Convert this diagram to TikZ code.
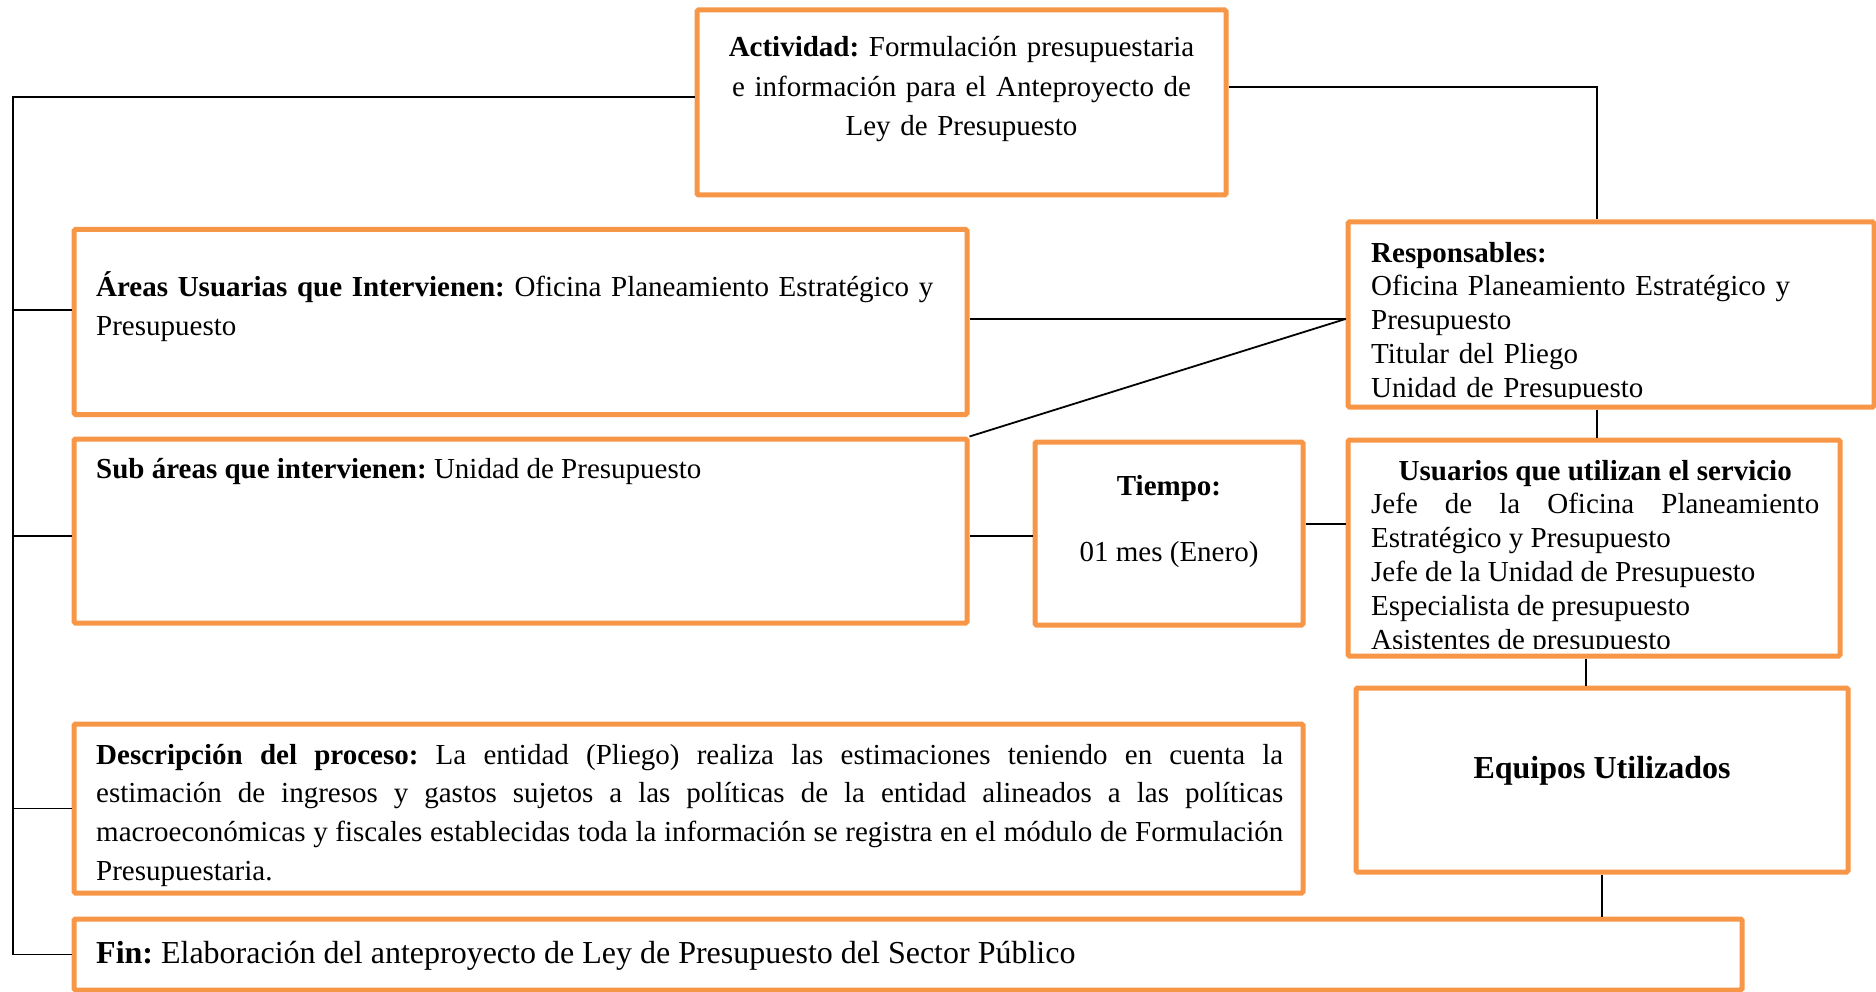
\documentclass[tikz,border=0pt]{standalone}
\usepackage{fontspec}
\setmainfont{Liberation Serif}
\definecolor{boxorange}{HTML}{F79646}
\hbadness=10000
\hfuzz=20pt
\begin{document}
\frenchspacing
\begin{tikzpicture}[x=1pt,y=-1pt,
  box/.style={draw=boxorange, line width=5pt, rounded corners=1.5pt, fill=white, inner sep=0pt},
  conn/.style={draw=black, line width=1.8pt},
  txt/.style={inner sep=0pt, font=\fontsize{29}{33.8}\selectfont}]
\useasboundingbox (0,0) rectangle (1876,992);
\coordinate (spine) at (13,0);
% boxes
\node[box, minimum width=529, minimum height=185] (act) at (961.5,102.5) {};
\node[box, minimum width=893, minimum height=185] (areas) at (520.5,322) {};
\node[box, minimum width=526, minimum height=185] (resp) at (1611,314.5) {};
\node[box, minimum width=893, minimum height=184] (sub) at (520.5,531) {};
\node[box, minimum width=268, minimum height=183] (tiempo) at (1169,533.5) {};
\node[box, minimum width=492, minimum height=216] (usu) at (1594,548) {};
\node[box, minimum width=492, minimum height=184] (equip) at (1602,780) {};
\node[box, minimum width=1229, minimum height=169] (desc) at (688.5,808.5) {};
\node[box, minimum width=1668, minimum height=71] (fin) at (908,954.5) {};
% anchor points
\coordinate (actW) at ([yshift=5.5]act.west);
\coordinate (actE) at ([yshift=15.5]act.east);
\coordinate (areasW) at ([yshift=12]areas.west);
\coordinate (subW) at ([yshift=-5]sub.west);
\coordinate (respW) at ([yshift=-4.5]resp.west);
\coordinate (respN) at ([xshift=-14]resp.north);
\coordinate (respS) at ([xshift=-14]resp.south);
\coordinate (tiempoW) at ([yshift=-2.5]tiempo.west);
\coordinate (tiempoE) at ([yshift=9.5]tiempo.east);
\coordinate (usuS) at ([xshift=-8]usu.south);
% connectors
\draw[conn] (actW) -- (actW -| spine) |- (fin.west);
\draw[conn] (spine |- areasW) -- (areasW);
\draw[conn] (spine |- subW) -- (subW);
\draw[conn] (spine |- desc.west) -- (desc.west);
\draw[conn] (actE) -| (respN);
\draw[conn] (respW) -- (respW -| areas.east);
\draw[conn] (sub.north east) -- (respW);
\draw[conn] (tiempoW) -- (tiempoW -| sub.east);
\draw[conn] (tiempoE) -- (tiempoE -| usu.west);
\draw[conn] (respS) -- (respS |- usu.north);
\draw[conn] (usuS) -- (usuS |- equip.north);
\draw[conn] (equip.south) -- (equip.south |- fin.north);
% texts
\node[txt, align=center, anchor=base, text width=529, font=\fontsize{29}{39.5}\selectfont] (tact) at (961.5,57)
  {\textbf{Actividad:} Formulación presupuestaria\\e información para el Anteproyecto de\\Ley de Presupuesto};
\node[txt, align=left, anchor=base west, text width=860, font=\fontsize{29}{39.5}\selectfont] (tareas) at (96,296)
  {\textbf{Áreas Usuarias que Intervienen:} Oficina Planeamiento Estratégico y\\Presupuesto};
\begin{scope}
\clip (resp.north west) rectangle ([yshift=11]resp.south east);
\node[txt, align=left, anchor=base west, text width=480] (tresp) at (1371,262)
  {\textbf{Responsables:}\\Oficina Planeamiento Estratégico y\\Presupuesto\\Titular del Pliego\\Unidad de Presupuesto};
\end{scope}
\node[txt, anchor=base west] (tsub) at (96,478)
  {\textbf{Sub áreas que intervienen:} Unidad de Presupuesto};
\node[txt, anchor=base] (ttiempo) at (1169,495) {\textbf{Tiempo:}};
\node[txt, anchor=base] (tmes) at (1169,561) {01 mes (Enero)};
\begin{scope}
\clip (usu.north west) rectangle ([yshift=10]usu.south east);
\node[txt, align=justify, anchor=base west, text width=448] (tusu) at (1371,480)
  {\centerline{\textbf{Usuarios que utilizan el servicio}}
   Jefe de la Oficina Planeamiento\linebreak Estratégico y Presupuesto\par
   Jefe de la Unidad de Presupuesto\par
   Especialista de presupuesto\par
   Asistentes de presupuesto};
\end{scope}
\node[txt, anchor=base, font=\fontsize{32}{36}\selectfont\bfseries] (tequip) at (1602,778) {Equipos Utilizados};
\node[txt, align=justify, anchor=base west, text width=1187, font=\fontsize{29}{38.7}\selectfont] (tdesc) at (96,764)
  {\textbf{Descripción del proceso:} La entidad (Pliego) realiza las estimaciones teniendo en cuenta la\linebreak
   estimación de ingresos y gastos sujetos a las políticas de la entidad alineados a las políticas\linebreak
   macroeconómicas y fiscales establecidas toda la información se registra en el módulo de Formulación\linebreak
   Presupuestaria.};
\node[txt, anchor=base west, font=\fontsize{32}{36}\selectfont] (tfin) at (96,963)
  {\textbf{Fin:} Elaboración del anteproyecto de Ley de Presupuesto del Sector Público};
\end{tikzpicture}
\end{document}
